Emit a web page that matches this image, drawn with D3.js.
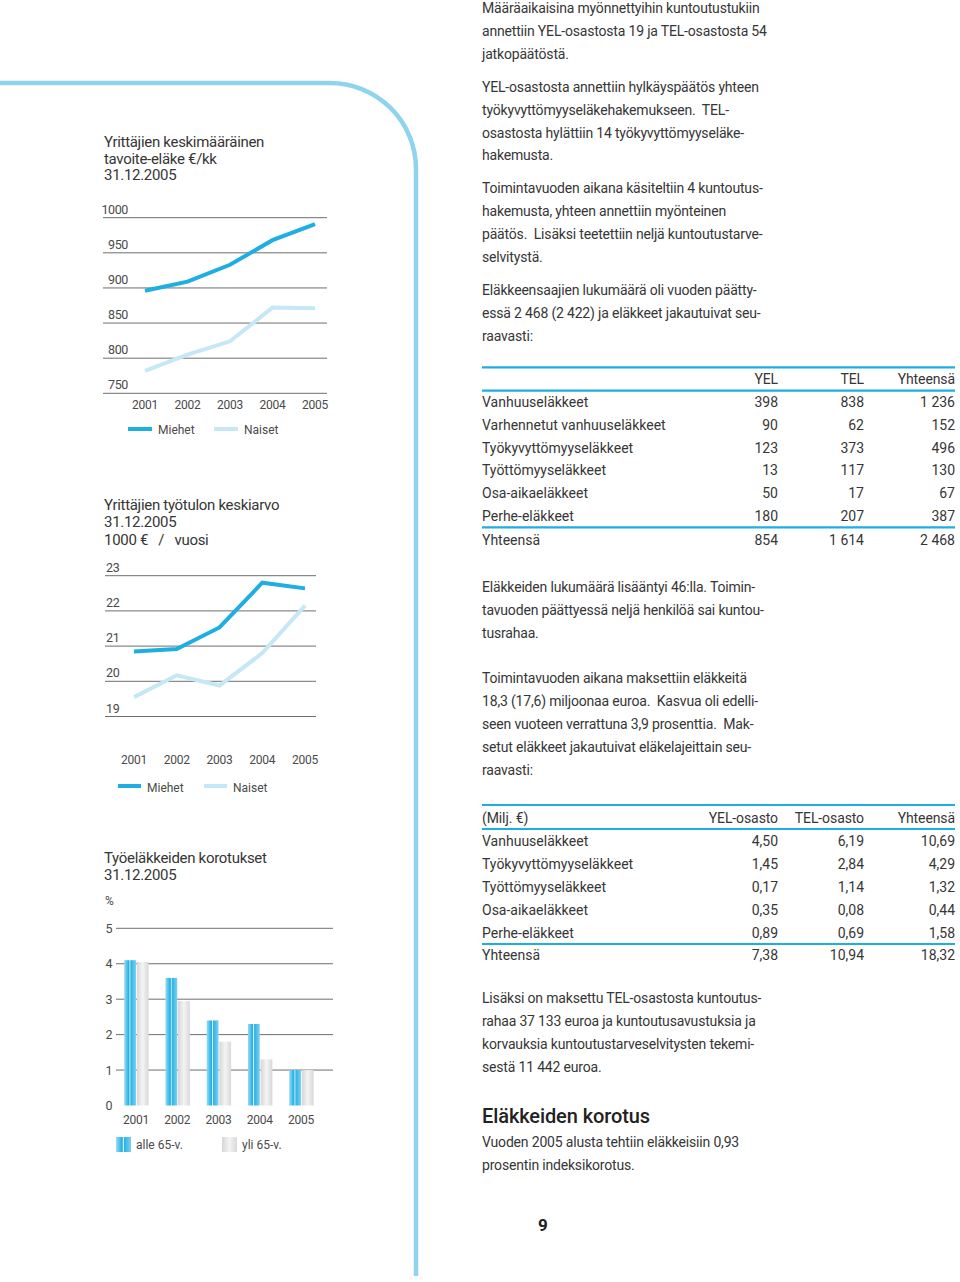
<!DOCTYPE html>
<html><head><meta charset="utf-8">
<script src="https://cdn.jsdelivr.net/npm/d3@7"></script>
<style>
body{margin:0;background:#fff}
svg{display:block}
text{font-family:Roboto,"Open Sans",sans-serif;white-space:pre}
</style>
</head><body>
<svg id="page" width="960" height="1282"></svg>
<script>
// ---------- DATA ----------
const years = ["2001","2002","2003","2004","2005"];
const legendLines = ["Miehet","Naiset"];
// Chart 1: Yrittäjien keskimääräinen tavoite-eläke €/kk
const pensionTicks = [750,800,850,900,950,1000];
const pensionMen   = [896,909,933,968,991];
const pensionWomen = [782,805,824,872,871];
// Chart 2: Yrittäjien työtulon keskiarvo 1000 € / vuosi
const incomeTicks = [19,20,21,22,23];
const incomeMen   = [20.85,20.92,21.53,22.8,22.64];
const incomeWomen = [19.55,20.17,19.88,20.8,22.15];
// Chart 3: Työeläkkeiden korotukset %
const raiseTicks = [0,1,2,3,4,5];
const raiseUnder65 = [4.1,3.6,2.4,2.3,1.0];
const raiseOver65  = [4.05,2.95,1.8,1.3,1.0];
const raiseLegend = ["alle 65-v.","yli 65-v."];
// Table 1: pensioners
const t1Header = ["","YEL","TEL","Yhteensä"];
const t1Rows = ["Vanhuuseläkkeet","Varhennetut vanhuuseläkkeet","Työkyvyttömyyseläkkeet","Työttömyyseläkkeet","Osa-aikaeläkkeet","Perhe-eläkkeet","Yhteensä"];
const t1YEL   = ["398","90","123","13","50","180","854"];
const t1TEL   = ["838","62","373","117","17","207","1 614"];
const t1Total = ["1 236","152","496","130","67","387","2 468"];
// Table 2: paid pensions
const t2Header = ["(Milj. €)","YEL-osasto","TEL-osasto","Yhteensä"];
const t2Rows = ["Vanhuuseläkkeet","Työkyvyttömyyseläkkeet","Työttömyyseläkkeet","Osa-aikaeläkkeet","Perhe-eläkkeet","Yhteensä"];
const t2YEL   = ["4,50","1,45","0,17","0,35","0,89","7,38"];
const t2TEL   = ["6,19","2,84","1,14","0,08","0,69","10,94"];
const t2Total = ["10,69","4,29","1,32","0,44","1,58","18,32"];
// Text
const para1 = ["Määräaikaisina myönnettyihin kuntoutustukiin","annettiin YEL-osastosta 19 ja TEL-osastosta 54","jatkopäätöstä."];
const para2 = ["YEL-osastosta annettiin hylkäyspäätös yhteen","työkyvyttömyyseläkehakemukseen.  TEL-","osastosta hylättiin 14 työkyvyttömyyseläke-","hakemusta."];
const para3 = ["Toimintavuoden aikana käsiteltiin 4 kuntoutus-","hakemusta, yhteen annettiin myönteinen","päätös.  Lisäksi teetettiin neljä kuntoutustarve-","selvitystä."];
const para4 = ["Eläkkeensaajien lukumäärä oli vuoden päätty-","essä 2 468 (2 422) ja eläkkeet jakautuivat seu-","raavasti:"];
const para5 = ["Eläkkeiden lukumäärä lisääntyi 46:lla. Toimin-","tavuoden päättyessä neljä henkilöä sai kuntou-","tusrahaa."];
const para6 = ["Toimintavuoden aikana maksettiin eläkkeitä","18,3 (17,6) miljoonaa euroa.  Kasvua oli edelli-","seen vuoteen verrattuna 3,9 prosenttia.  Mak-","setut eläkkeet jakautuivat eläkelajeittain seu-","raavasti:"];
const para7 = ["Lisäksi on maksettu TEL-osastosta kuntoutus-","rahaa 37 133 euroa ja kuntoutusavustuksia ja","korvauksia kuntoutustarveselvitysten tekemi-","sestä 11 442 euroa."];
const heading = "Eläkkeiden korotus";
const para8 = ["Vuoden 2005 alusta tehtiin eläkkeisiin 0,93","prosentin indeksikorotus."];
const chart1Title = ["Yrittäjien keskimääräinen","tavoite-eläke €/kk","31.12.2005"];
const chart2Title = ["Yrittäjien työtulon keskiarvo","31.12.2005","1000 €   /   vuosi"];
const chart3Title = ["Työeläkkeiden korotukset","31.12.2005"];
const pageNumber = "9";

// ---------- STYLE ----------
const BLUE = "#1eaee2", LIGHT = "#c6e7f5", FRAME = "#8fd3ee", GRID = "#6e6e6e";
const TXT = "#363636", CTXT = "#4a4a4a";

const svg = d3.select("#page");

// Frame
svg.append("path")
  .attr("d","M0,83 H330 A86,86 0 0 1 416,169 V1276")
  .attr("fill","none").attr("stroke",FRAME).attr("stroke-width",4.5);

function titleBlock(lines, x, y0, step){
  svg.append("g").selectAll("text").data(lines).join("text")
    .attr("x",x).attr("y",(d,i)=>y0+i*step)
    .attr("font-size",15).attr("fill",TXT).attr("letter-spacing",-0.3)
    .text(d=>d);
}

// ---------- CHART 1 ----------
titleBlock(chart1Title,104,147,16.5);
{
  const y = d3.scaleLinear().domain([750,1000]).range([393.3,217.7]);
  const x = d3.scalePoint().domain(years).range([145,315]);
  const g = svg.append("g");
  g.selectAll("line.grid").data(pensionTicks).join("line")
    .attr("x1",103).attr("x2",327).attr("y1",d=>y(d)).attr("y2",d=>y(d))
    .attr("stroke",GRID).attr("stroke-width",1);
  g.selectAll("text.tick").data(pensionTicks).join("text")
    .attr("x",128).attr("y",d=>y(d)-4).attr("text-anchor","end")
    .attr("font-size",12.5).attr("fill",CTXT).attr("letter-spacing",-0.4).text(d=>d);
  g.selectAll("text.year").data(years).join("text")
    .attr("x",d=>x(d)).attr("y",408.5).attr("text-anchor","middle")
    .attr("font-size",12).attr("fill",CTXT).attr("letter-spacing",-0.3).text(d=>d);
  const line = d3.line().x((d,i)=>x(years[i])).y(d=>y(d));
  g.append("path").attr("d",line(pensionWomen)).attr("fill","none").attr("stroke",LIGHT).attr("stroke-width",4);
  g.append("path").attr("d",line(pensionMen)).attr("fill","none").attr("stroke",BLUE).attr("stroke-width",4);
  const lg = d3.scaleOrdinal().domain(legendLines).range([128,214]);
  const lc = d3.scaleOrdinal().domain(legendLines).range([BLUE,LIGHT]);
  g.selectAll("line.leg").data(legendLines).join("line")
    .attr("x1",d=>lg(d)).attr("x2",d=>lg(d)+24).attr("y1",429).attr("y2",429)
    .attr("stroke",d=>lc(d)).attr("stroke-width",4);
  g.selectAll("text.leg").data(legendLines).join("text")
    .attr("x",d=>lg(d)+30).attr("y",434).attr("font-size",12).attr("fill",CTXT).text(d=>d);
}

// ---------- CHART 2 ----------
titleBlock(chart2Title,104,509.5,17.5);
{
  const y = d3.scaleLinear().domain([19,23]).range([716.5,575.7]);
  const x = d3.scalePoint().domain(years).range([134,305]);
  const g = svg.append("g");
  g.selectAll("line.grid").data(incomeTicks).join("line")
    .attr("x1",105).attr("x2",316).attr("y1",d=>y(d)).attr("y2",d=>y(d))
    .attr("stroke",GRID).attr("stroke-width",1);
  g.selectAll("text.tick").data(incomeTicks).join("text")
    .attr("x",106).attr("y",d=>y(d)-4)
    .attr("font-size",12.5).attr("fill",CTXT).attr("letter-spacing",-0.4).text(d=>d);
  g.selectAll("text.year").data(years).join("text")
    .attr("x",d=>x(d)).attr("y",764).attr("text-anchor","middle")
    .attr("font-size",12).attr("fill",CTXT).attr("letter-spacing",-0.3).text(d=>d);
  const line = d3.line().x((d,i)=>x(years[i])).y(d=>y(d));
  g.append("path").attr("d",line(incomeWomen)).attr("fill","none").attr("stroke",LIGHT).attr("stroke-width",4);
  g.append("path").attr("d",line(incomeMen)).attr("fill","none").attr("stroke",BLUE).attr("stroke-width",4);
  const lg = d3.scaleOrdinal().domain(legendLines).range([118,204]);
  const lc = d3.scaleOrdinal().domain(legendLines).range([BLUE,LIGHT]);
  g.selectAll("line.leg").data(legendLines).join("line")
    .attr("x1",d=>lg(d)).attr("x2",d=>lg(d)+23).attr("y1",786).attr("y2",786)
    .attr("stroke",d=>lc(d)).attr("stroke-width",4);
  g.selectAll("text.leg").data(legendLines).join("text")
    .attr("x",d=>lg(d)+29).attr("y",791.5).attr("font-size",12).attr("fill",CTXT).text(d=>d);
}

// ---------- CHART 3 ----------
titleBlock(chart3Title,104,862.7,16.8);
svg.append("text").attr("x",105).attr("y",905).attr("font-size",12).attr("fill",CTXT).text("%");
{
  const defs = svg.append("defs");
  const gb = defs.append("linearGradient").attr("id","gBlue");
  [[0,"#9adbf4"],[0.42,"#1badE3"],[0.48,"#ffffff"],[0.56,"#2ab3e6"],[1,"#7fd0f0"]]
    .forEach(s=>gb.append("stop").attr("offset",s[0]).attr("stop-color",s[1]));
  const gg = defs.append("linearGradient").attr("id","gGray");
  [[0,"#d6d6d6"],[0.5,"#f4f4f4"],[1,"#d8d8d8"]]
    .forEach(s=>gg.append("stop").attr("offset",s[0]).attr("stop-color",s[1]));

  const y = d3.scaleLinear().domain([0,5]).range([1105.5,928.3]);
  const x = d3.scalePoint().domain(years).range([136,301]);
  const g = svg.append("g");
  g.selectAll("line.grid").data(raiseTicks.filter(d=>d>0)).join("line")
    .attr("x1",116).attr("x2",333).attr("y1",d=>y(d)).attr("y2",d=>y(d))
    .attr("stroke",GRID).attr("stroke-width",1);
  g.selectAll("text.tick").data(raiseTicks).join("text")
    .attr("x",109).attr("y",d=>y(d)+4.5).attr("text-anchor","middle")
    .attr("font-size",12.5).attr("fill",CTXT).text(d=>d);
  const bw = 11.8;
  g.selectAll("rect.a").data(raiseUnder65).join("rect")
    .attr("x",(d,i)=>x(years[i])-bw).attr("width",bw)
    .attr("y",d=>y(d)).attr("height",d=>y(0)-y(d)).attr("fill","url(#gBlue)");
  g.selectAll("rect.b").data(raiseOver65).join("rect")
    .attr("x",(d,i)=>x(years[i])+0.8).attr("width",bw)
    .attr("y",d=>y(d)).attr("height",d=>y(0)-y(d)).attr("fill","url(#gGray)");
  g.selectAll("text.year").data(years).join("text")
    .attr("x",d=>x(d)).attr("y",1123.5).attr("text-anchor","middle")
    .attr("font-size",12).attr("fill",CTXT).attr("letter-spacing",-0.3).text(d=>d);
  const lg = d3.scaleOrdinal().domain(raiseLegend).range([116,222]);
  const lf = d3.scaleOrdinal().domain(raiseLegend).range(["url(#gBlue)","url(#gGray)"]);
  g.selectAll("rect.leg").data(raiseLegend).join("rect")
    .attr("x",d=>lg(d)).attr("y",1137).attr("width",15).attr("height",15).attr("fill",d=>lf(d));
  g.selectAll("text.leg").data(raiseLegend).join("text")
    .attr("x",d=>lg(d)+20).attr("y",1148.5).attr("font-size",12).attr("fill",CTXT).text(d=>d);
}

// ---------- RIGHT COLUMN TEXT ----------
const LX = 482, STEP = 22.9;
function para(lines, y0){
  svg.append("g").selectAll("text").data(lines).join("text")
    .attr("x",LX).attr("y",(d,i)=>y0+i*STEP)
    .attr("font-size",14).attr("fill",TXT).attr("letter-spacing",-0.18)
    .text(d=>d);
}
para(para1,12.7);
para(para2,91.7);
para(para3,193.3);
para(para4,295);

function table(header, rows, cols, top, headerY, rowY0, totalY, lineHead, lineTot){
  const g = svg.append("g");
  const colX = [LX,778,864,955];
  [top,lineHead,lineTot].forEach(v=>g.append("line").attr("x1",LX).attr("x2",955)
    .attr("y1",v).attr("y2",v).attr("stroke",BLUE).attr("stroke-width",2.2));
  g.selectAll("text.h").data(header).join("text")
    .attr("x",(d,i)=>colX[i]).attr("y",headerY).attr("text-anchor",(d,i)=>i?"end":"start")
    .attr("font-size",14).attr("fill",TXT).attr("letter-spacing",-0.1).text(d=>d);
  const yRow = i => i===rows.length-1 ? totalY : rowY0 + i*STEP;
  g.selectAll("text.r").data(rows).join("text")
    .attr("x",LX).attr("y",(d,i)=>yRow(i)).attr("font-size",14).attr("fill",TXT).text(d=>d);
  cols.forEach((col,ci)=>{
    g.selectAll("text.c"+ci).data(col).join("text")
      .attr("x",colX[ci+1]).attr("y",(d,i)=>yRow(i)).attr("text-anchor","end")
      .attr("font-size",14).attr("fill",TXT).text(d=>d);
  });
}
table(t1Header,t1Rows,[t1YEL,t1TEL,t1Total],367.3,384,406.7,545,390.7,527.3);
para(para5,591.7);
para(para6,683.3);
table(t2Header,t2Rows,[t2YEL,t2TEL,t2Total],805,823.3,846,960,829,944);
para(para7,1003.3);
svg.append("text").attr("x",LX).attr("y",1123.3).attr("font-size",20).attr("font-weight",500)
  .attr("fill","#222").attr("letter-spacing",-0.1).text(heading);
para(para8,1146.7);
svg.append("text").attr("x",543).attr("y",1231).attr("text-anchor","middle")
  .attr("font-size",17).attr("font-weight",700).attr("fill","#222")
  .attr("font-family","'DejaVu Sans',sans-serif").text(pageNumber);
</script>
</body></html>
